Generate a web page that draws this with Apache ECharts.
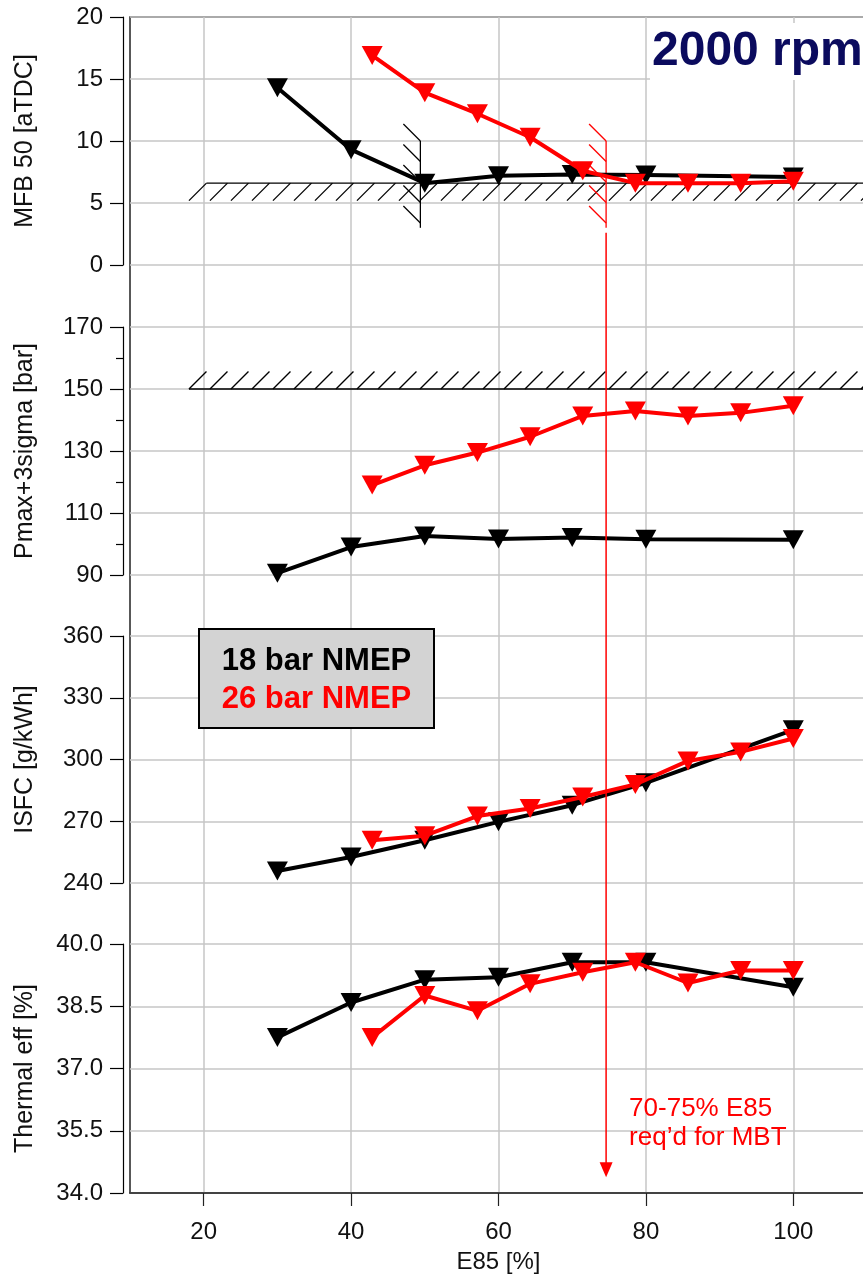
<!DOCTYPE html>
<html>
<head>
<meta charset="utf-8">
<script src="https://cdn.jsdelivr.net/npm/echarts@6/dist/echarts.min.js"></script>
<style>
html, body { margin: 0; padding: 0; background: #fff; }
#main { width: 863px; height: 1275px; }
</style>
</head>
<body>
<div id="main"></div>
<script>
// E85 share of the test points
var e85Black = [30, 40, 50, 60, 70, 80, 100];
var e85Red = [42.86, 50, 57.14, 64.29, 71.43, 78.57, 85.71, 92.86, 100];

// MFB 50 [aTDC]
var mfbBlack = [14.3, 9.3, 6.6, 7.2, 7.3, 7.25, 7.1];
var mfbRed = [16.9, 13.9, 12.2, 10.3, 7.6, 6.6, 6.6, 6.6, 6.75];
// Pmax+3sigma [bar]
var pmaxBlack = [90.6, 99, 102.6, 101.6, 102.1, 101.5, 101.4];
var pmaxRed = [119, 125.4, 129.5, 134.6, 141.3, 142.9, 141.3, 142.3, 144.6];
// ISFC [g/kWh]
var isfcBlack = [245.8, 252.6, 260.8, 269.7, 277.8, 288.7, 314.4];
var isfcRed = [260.8, 263, 272.5, 276.2, 281.8, 287.9, 299.3, 303.7, 310.2];
// Thermal eff [%]
var effBlack = [37.75, 38.59, 39.14, 39.2, 39.56, 39.56, 38.96];
var effRed = [37.75, 38.76, 38.39, 39.04, 39.32, 39.56, 39.06, 39.36, 39.36];

var xTicks = [20, 40, 60, 80, 100];

// limits / MBT markers
var mfbLimit = 6.6;
var pmaxLimit = 150;
var hatchStartE85 = 18;
var mbtBlackE85 = 49.4;
var mbtRedE85 = 74.6;
var mbtMarkTop = 10, mbtMarkBottom = 3;
var arrowTopMfb = 2.6, arrowTipEff = 34.38;

var font = 'Liberation Sans, Arial, sans-serif';
var gridColor = '#c6c6c6';
var red = '#ff0000';

var chart = echarts.init(document.getElementById('main'));

var tops = [17, 327, 636, 944];
var heights = [248, 248, 247, 249];

var grids = [];
for (var i = 0; i < 4; i++) {
  grids.push({ left: 130, right: -4, top: tops[i], height: heights[i], outerBoundsMode: 'none' });
}
// whole plot box, carries the vertical grid lines and the E85 axis
grids.push({ left: 130, right: -4, top: 17, height: 1176, show: true,
  borderColor: '#222', borderWidth: 1.5, backgroundColor: 'transparent', outerBoundsMode: 'none' });

var xAxes = [];
for (var i = 0; i < 4; i++) {
  xAxes.push({ type: 'value', gridIndex: i, min: 10, max: 110, show: false });
}
xAxes.push({
  type: 'value', gridIndex: 4, min: 10, max: 110, position: 'bottom', offset: 7,
  name: 'E85 [%]', nameLocation: 'middle', nameGap: 50,
  nameTextStyle: { fontSize: 24, color: '#111', fontFamily: font },
  axisLine: { show: true, lineStyle: { color: '#222', width: 1.5 } },
  axisTick: { show: true, length: 13, customValues: xTicks, lineStyle: { color: '#222', width: 1.2 } },
  axisLabel: { fontSize: 24, color: '#111', fontFamily: font, margin: 20, customValues: xTicks },
  splitLine: { show: true, lineStyle: { color: gridColor, width: 1.5 } }
});

function yAxis(i, name, min, max, interval, fmt) {
  return {
    type: 'value', gridIndex: i, min: min, max: max, interval: interval, offset: 7,
    name: name, nameLocation: 'middle', nameGap: 85,
    nameTextStyle: { fontSize: 25, color: '#111', fontFamily: font },
    axisLine: { show: true, lineStyle: { color: '#000', width: 1.2 } },
    axisTick: { show: true, length: 13, lineStyle: { color: '#000', width: 1.2 } },
    axisLabel: { fontSize: 24, color: '#111', fontFamily: font, margin: 20, formatter: fmt },
    splitLine: { show: true, lineStyle: { color: gridColor, width: 1.5 } }
  };
}

var yAxes = [
  yAxis(0, 'MFB 50 [aTDC]', 0, 20, 5),
  yAxis(1, 'Pmax+3sigma [bar]', 90, 170, 20),
  yAxis(2, 'ISFC [g/kWh]', 240, 360, 30),
  yAxis(3, 'Thermal eff [%]', 34, 40, 1.5, function (v) { return v.toFixed(1); }),
  { type: 'value', gridIndex: 4, min: 0, max: 1, show: false }
];
yAxes[1].minorTick = { show: true, splitNumber: 2, length: 7, lineStyle: { color: '#000', width: 1.2 } };

function pairs(xs, ys) {
  return xs.map(function (x, k) { return [x, ys[k]]; });
}

function lineSeries(i, xs, ys, color, z) {
  return {
    type: 'line', xAxisIndex: i, yAxisIndex: i, data: pairs(xs, ys),
    symbol: 'triangle', symbolRotate: 180, symbolSize: [21, 19],
    lineStyle: { color: color, width: 4 }, itemStyle: { color: color },
    z: z, animation: false
  };
}

// horizontal limit line with hatching (below or above)
function hatchSeries(i, level, below) {
  return {
    type: 'custom', xAxisIndex: i, yAxisIndex: i, z: 1, silent: true, animation: false,
    clip: false,
    data: [[hatchStartE85, level]],
    renderItem: function (params, api) {
      var p = api.coord([api.value(0), api.value(1)]);
      var xEnd = params.coordSys.x + params.coordSys.width;
      var h = 17.5, step = 21, y0 = p[1];
      var style = { stroke: '#000', lineWidth: 1.3 };
      var kids = [{ type: 'line', shape: { x1: below ? p[0] + h : p[0], y1: y0, x2: xEnd, y2: y0 }, style: style }];
      for (var x = p[0]; x < xEnd; x += step) {
        kids.push({ type: 'line', style: style,
          shape: below ? { x1: x, y1: y0 + h, x2: x + h, y2: y0 } : { x1: x, y1: y0, x2: x + h, y2: y0 - h } });
      }
      return { type: 'group', children: kids };
    }
  };
}

// short vertical hatched marker for the MBT limit
function mbtSeries(e85, color) {
  return {
    type: 'custom', xAxisIndex: 0, yAxisIndex: 0, z: 1, silent: true, animation: false,
    clip: false,
    data: [[e85, mbtMarkTop, mbtMarkBottom]],
    renderItem: function (params, api) {
      var a = api.coord([api.value(0), api.value(1)]);
      var b = api.coord([api.value(0), api.value(2)]);
      var style = { stroke: color, lineWidth: 1.3 };
      var kids = [{ type: 'line', shape: { x1: a[0], y1: a[1], x2: b[0], y2: b[1] }, style: style }];
      for (var k = 0; k < 5; k++) {
        var y = a[1] + k * 20.5;
        kids.push({ type: 'line', shape: { x1: a[0] - 17, y1: y - 17, x2: a[0], y2: y }, style: style });
      }
      return { type: 'group', children: kids };
    }
  };
}

var series = [
  hatchSeries(0, mfbLimit, true),
  hatchSeries(1, pmaxLimit, false),
  mbtSeries(mbtBlackE85, '#000'),
  mbtSeries(mbtRedE85, red),
  lineSeries(0, e85Black, mfbBlack, '#000', 2),
  lineSeries(0, e85Red, mfbRed, red, 3),
  lineSeries(1, e85Black, pmaxBlack, '#000', 2),
  lineSeries(1, e85Red, pmaxRed, red, 3),
  lineSeries(2, e85Black, isfcBlack, '#000', 2),
  lineSeries(2, e85Red, isfcRed, red, 3),
  lineSeries(3, e85Black, effBlack, '#000', 2),
  lineSeries(3, e85Red, effRed, red, 3)
];

chart.setOption({
  animation: false,
  grid: grids,
  xAxis: xAxes,
  yAxis: yAxes,
  series: series
});

var arrowStart = chart.convertToPixel({ gridIndex: 0 }, [mbtRedE85, arrowTopMfb]);
var arrowTip = chart.convertToPixel({ gridIndex: 3 }, [mbtRedE85, arrowTipEff]);

chart.setOption({
  graphic: [
    { type: 'rect', z: 100, shape: { x: 650, y: 23, width: 215, height: 57 }, style: { fill: '#fff' } },
    { type: 'text', z: 101, style: { x: 652, y: 52, text: '2000 rpm', fill: '#0b0b5e',
      font: 'bold 48px ' + font, verticalAlign: 'middle' } },
    { type: 'rect', z: 100, shape: { x: 199, y: 629, width: 235, height: 99 },
      style: { fill: '#d3d3d3', stroke: '#000', lineWidth: 2 } },
    { type: 'text', z: 101, style: { x: 316.5, y: 661, text: '18 bar NMEP', fill: '#000',
      font: 'bold 31px ' + font, align: 'center', verticalAlign: 'middle' } },
    { type: 'text', z: 101, style: { x: 316.5, y: 699, text: '26 bar NMEP', fill: red,
      font: 'bold 31px ' + font, align: 'center', verticalAlign: 'middle' } },
    { type: 'line', z: 100, shape: { x1: arrowStart[0], y1: arrowStart[1], x2: arrowTip[0], y2: arrowTip[1] - 14 },
      style: { stroke: red, lineWidth: 1.5 } },
    { type: 'polygon', z: 100, shape: { points: [[arrowTip[0] - 6.5, arrowTip[1] - 15], [arrowTip[0] + 6.5, arrowTip[1] - 15], [arrowTip[0], arrowTip[1]]] },
      style: { fill: red } },
    { type: 'text', z: 101, style: { x: arrowTip[0] + 23, y: 1094, text: '70-75% E85\nreq’d for MBT', fill: red,
      font: '26px ' + font, lineHeight: 29, verticalAlign: 'top' } }
  ]
});
</script>
</body>
</html>
